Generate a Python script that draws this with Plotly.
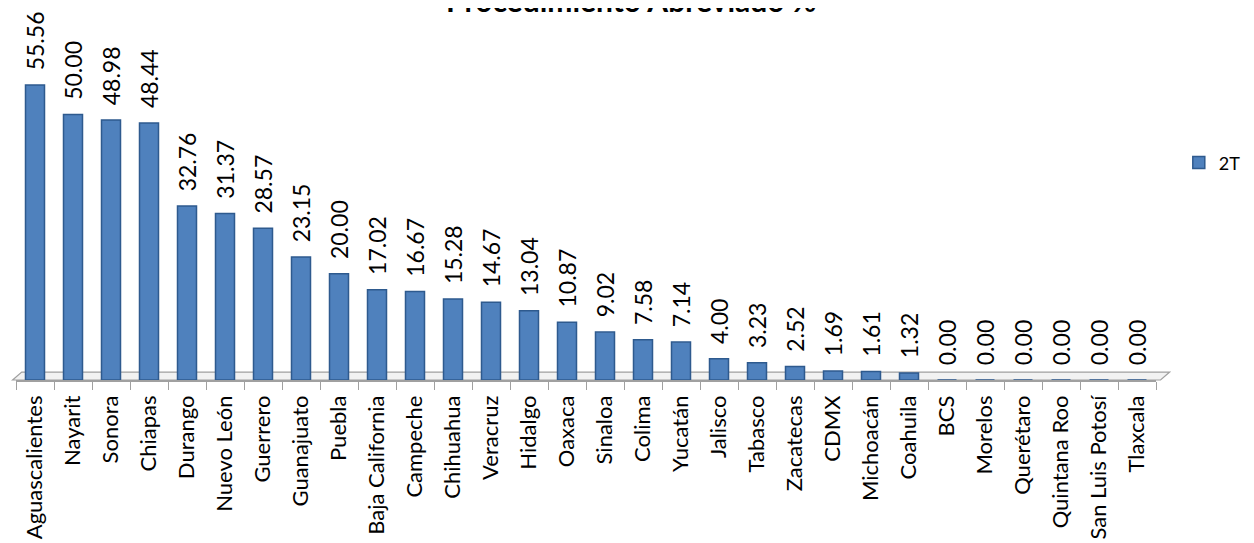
import plotly.graph_objects as go

estados = ["Aguascalientes", "Nayarit", "Sonora", "Chiapas", "Durango", "Nuevo León",
           "Guerrero", "Guanajuato", "Puebla", "Baja California", "Campeche", "Chihuahua",
           "Veracruz", "Hidalgo", "Oaxaca", "Sinaloa", "Colima", "Yucatán", "Jalisco",
           "Tabasco", "Zacatecas", "CDMX", "Michoacán", "Coahuila", "BCS", "Morelos",
           "Querétaro", "Quintana Roo", "San Luis Potosí", "Tlaxcala"]
valores_2t = [55.56, 50.00, 48.98, 48.44, 32.76, 31.37, 28.57, 23.15, 20.00, 17.02,
              16.67, 15.28, 14.67, 13.04, 10.87, 9.02, 7.58, 7.14, 4.00, 3.23,
              2.52, 1.69, 1.61, 1.32, 0.00, 0.00, 0.00, 0.00, 0.00, 0.00]
serie = "2T"
titulo = "Procedimiento Abreviado %"

FONT = "Lato"

fig = go.Figure()
fig.add_trace(go.Bar(
    x=estados, y=valores_2t, name=serie,
    marker=dict(color="#4F81BD", line=dict(color="#2E5A8E", width=1.5)),
    width=0.5,
    text=[f"  {v:.2f}" for v in valores_2t],
    textposition="outside", textangle=-90,
    textfont=dict(family=FONT, size=23, color="black"),
    cliponaxis=False,
    showlegend=True,
))

fig.update_layout(
    width=1254, height=543,
    paper_bgcolor="white", plot_bgcolor="white",
    margin=dict(l=8, r=106, t=10, b=171, autoexpand=False),
    title=dict(text=f"<b>{titulo}</b>", x=0.497, xanchor="center",
               yref="container", y=0.993, yanchor="bottom",
               font=dict(family=FONT, size=30, color="black")),
    bargap=0.5,
    legend=dict(x=1.02, y=0.60, xanchor="left", yanchor="middle",
                font=dict(family=FONT, size=18, color="black"),
                itemwidth=30, bgcolor="rgba(0,0,0,0)"),
    uniformtext=dict(mode="show", minsize=23),
)
fig.update_xaxes(
    type="category", tickangle=-90, automargin=False,
    tickfont=dict(family=FONT, size=22, color="black"),
    showline=True, linecolor="#A0A0A0", linewidth=1.5,
    ticks="outside", tickson="boundaries", ticklen=8, tickcolor="#A0A0A0",
    ticklabelstandoff=5,
    showgrid=False,
)
fig.update_yaxes(range=[0, 68.2], visible=False, showgrid=False, automargin=False)

# light floor of the 3D plot
fig.add_shape(type="path", xref="paper", yref="paper",
              path="M -0.003 0.0 L 0.005 0.022 L 1.012 0.022 L 1.004 0.0 Z",
              fillcolor="#F2F2F2", line=dict(color="#A0A0A0", width=1.2), layer="below")

fig.write_html("out.html")
